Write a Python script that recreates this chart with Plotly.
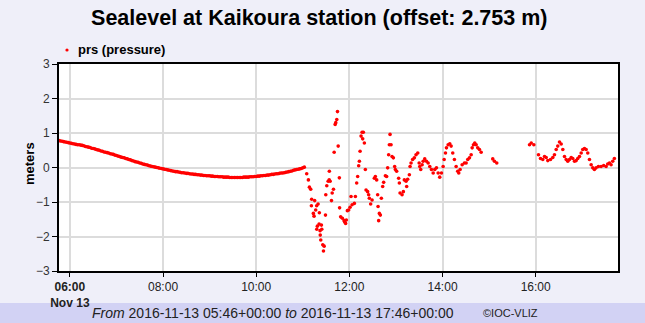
import pandas as pd
import plotly.graph_objects as go

# Kaikoura tide gauge, 2016-11-13, pressure sensor (offset removed: 2.753 m)
DAY = pd.Timestamp("2016-11-13")
CALM_START = pd.Timestamp("2016-11-13 05:46")

# Readings every 2 minutes, 05:46 -> 11:02 (metres)
calm_levels = [
    0.78, 0.77, 0.76, 0.75, 0.74, 0.73, 0.72, 0.71, 0.70, 0.69,
    0.68, 0.67, 0.66, 0.66, 0.65, 0.64, 0.63, 0.61, 0.60, 0.59,
    0.58, 0.56, 0.55, 0.54, 0.52, 0.51, 0.50, 0.48, 0.47, 0.45,
    0.44, 0.43, 0.42, 0.40, 0.39, 0.38, 0.36, 0.35, 0.33, 0.32,
    0.30, 0.29, 0.28, 0.26, 0.25, 0.23, 0.22, 0.20, 0.19, 0.17,
    0.16, 0.15, 0.13, 0.12, 0.10, 0.09, 0.08, 0.07, 0.05, 0.04,
    0.03, 0.02, 0.01, 0.00, -0.01, -0.02, -0.03, -0.04, -0.05, -0.06,
    -0.07, -0.08, -0.09, -0.10, -0.11, -0.12, -0.12, -0.13, -0.14, -0.15,
    -0.15, -0.16, -0.17, -0.17, -0.18, -0.19, -0.19, -0.20, -0.20, -0.21,
    -0.21, -0.22, -0.22, -0.23, -0.23, -0.24, -0.24, -0.24, -0.25, -0.25,
    -0.26, -0.26, -0.26, -0.27, -0.27, -0.27, -0.28, -0.28, -0.28, -0.28,
    -0.29, -0.29, -0.29, -0.29, -0.29, -0.29, -0.29, -0.29, -0.29, -0.28,
    -0.28, -0.28, -0.28, -0.27, -0.27, -0.27, -0.26, -0.26, -0.25, -0.25,
    -0.24, -0.24, -0.23, -0.23, -0.22, -0.22, -0.21, -0.20, -0.20, -0.19,
    -0.18, -0.18, -0.17, -0.16, -0.16, -0.15, -0.14, -0.13, -0.12, -0.11,
    -0.10, -0.08, -0.07, -0.06, -0.05, -0.04, -0.03, -0.01, 0.01,
]

# Tsunami arrival and later oscillations: time of day (hours, UTC) and level (m)
wave_hours = [
    11.084, 11.120, 11.142, 11.170, 11.185, 11.191, 11.227, 11.242, 11.255, 11.277,
    11.298, 11.300, 11.313, 11.328, 11.350, 11.356, 11.371, 11.375, 11.386, 11.400,
    11.408, 11.429, 11.444, 11.459, 11.487, 11.494, 11.515, 11.545, 11.567, 11.570,
    11.588, 11.616, 11.631, 11.659, 11.674, 11.695, 11.708, 11.730, 11.745, 11.760,
    11.785, 11.790, 11.813, 11.850, 11.886, 11.900, 11.920, 11.935, 11.957, 11.985,
    12.015, 12.036, 12.058, 12.107, 12.129, 12.157, 12.178, 12.200, 12.215, 12.230,
    12.251, 12.273, 12.286, 12.300, 12.322, 12.343, 12.358, 12.392, 12.414, 12.429,
    12.457, 12.487, 12.536, 12.558, 12.586, 12.607, 12.616, 12.629, 12.644, 12.665,
    12.687, 12.715, 12.736, 12.773, 12.800, 12.822, 12.843, 12.858, 12.873, 12.895,
    12.916, 12.944, 12.972, 12.987, 13.015, 13.058, 13.073, 13.088, 13.131, 13.159,
    13.180, 13.217, 13.230, 13.251, 13.288, 13.303, 13.324, 13.358, 13.395, 13.431,
    13.468, 13.498, 13.511, 13.532, 13.562, 13.584, 13.618, 13.655, 13.691, 13.726,
    13.762, 13.799, 13.833, 13.870, 13.906, 13.940, 13.977, 14.013, 14.035, 14.063,
    14.084, 14.120, 14.155, 14.185, 14.219, 14.255, 14.292, 14.326, 14.348, 14.378,
    14.421, 14.470, 14.507, 14.541, 14.578, 14.614, 14.636, 14.664, 14.692, 14.722,
    14.756, 14.793, 14.829,
    15.078, 15.115, 15.164,
    15.867, 15.904, 15.960, 16.060, 16.103, 16.152, 16.189, 16.225, 16.260, 16.318,
    16.367, 16.403, 16.440, 16.474, 16.511, 16.547, 16.582, 16.618, 16.655, 16.689,
    16.725, 16.762, 16.796, 16.833, 16.869, 16.903, 16.940, 16.976, 17.010, 17.047,
    17.083, 17.118, 17.154, 17.190, 17.225, 17.260, 17.297, 17.346, 17.404, 17.460,
    17.511, 17.546, 17.582, 17.618, 17.653, 17.689,
]
wave_levels = [
    -0.18, -0.36, -0.57, -0.63, -1.11, -0.92, -1.33, -1.41, -0.96, -1.23,
    -1.11, -1.79, -1.70, -1.06, -1.64, -1.31, -1.83, -1.96, -2.10, -1.67,
    -1.79, -2.24, -2.42, -2.28, -1.38, -0.79, -0.53, -0.40, -0.36, -0.11,
    -0.40, -0.96, -0.74, -0.63, 0.44, 1.25, 1.30, 1.39, 1.62, 0.62,
    -0.30, -1.17, -1.43, -1.47, -1.54, -1.58, -1.62, -1.52, -1.25, -1.23,
    -1.15, -0.84, -1.08, -1.04, -0.84, -0.45, -0.26, 0.05, 0.18, 0.47,
    0.91, 1.02, 0.83, 1.02, 0.71, -0.06, -0.65, -0.70, -0.79, -0.89,
    -1.06, -0.94, -0.31, -0.26, -0.36, -0.79, -1.13, -1.54, -1.33, -1.38,
    -0.89, -0.55, -0.43, -0.24, -0.26, -0.01, 0.37, 0.66, 0.96, 0.66,
    0.32, 0.28, 0.03, -0.06, -0.11, -0.31, -0.45, -0.74, -0.79, -0.70,
    -0.36, -0.40, -0.55, -0.34, -0.21, 0.03, 0.13, 0.23, 0.28, 0.37,
    0.42, 0.13, 0.03, -0.06, 0.08, 0.18, 0.25, 0.18, 0.13, 0.03,
    -0.06, -0.16, -0.06, -0.01, -0.16, -0.28, -0.16, 0.03, 0.23, 0.42,
    0.57, 0.66, 0.69, 0.62, 0.42, 0.23, 0.03, -0.11, -0.16, -0.06,
    0.08, 0.13, 0.13, 0.23, 0.28, 0.37, 0.57, 0.66, 0.71, 0.66,
    0.57, 0.52, 0.44,
    0.25, 0.18, 0.13,
    0.66, 0.71, 0.66, 0.37, 0.26, 0.23, 0.32, 0.29, 0.20, 0.23,
    0.29, 0.37, 0.52, 0.62, 0.74, 0.68, 0.52, 0.32, 0.23, 0.18,
    0.23, 0.29, 0.26, 0.18, 0.20, 0.26, 0.32, 0.42, 0.52, 0.55,
    0.52, 0.42, 0.23, 0.08, -0.01, -0.06, -0.01, 0.03, 0.03, 0.06,
    0.03, 0.10, 0.13, 0.08, 0.18, 0.26,
]

y_ticks = [-3, -2, -1, 0, 1, 2, 3]
x_tick_times = ["06:00", "08:00", "10:00", "12:00", "14:00", "16:00"]
x_tick_labels = ["<b>06:00</b><br><b>Nov 13</b>", "08:00", "10:00", "12:00", "14:00", "16:00"]

calm_times = pd.date_range(CALM_START, periods=len(calm_levels), freq="2min")
wave_times = DAY + pd.to_timedelta(wave_hours, unit="h")
times = list(calm_times) + list(wave_times)
levels = calm_levels + wave_levels

W, H = 645, 323
M_L, M_R, M_T, M_B = 59, 27, 64, 52
PW, PH = W - M_L - M_R, H - M_T - M_B


def px_x(px):
    return (px - M_L) / PW


def px_y(py):
    return (H - M_B - py) / PH


FONT = "Liberation Sans, Arial, sans-serif"
BG = "#efeff9"
BAND = "#d2d2f4"

fig = go.Figure()
fig.add_trace(go.Scatter(
    x=times, y=levels, mode="markers", name="prs (pressure)",
    marker=dict(color="#ff0000", size=3.6, line=dict(width=0)),
    showlegend=False,
))

fig.update_layout(
    width=W, height=H,
    margin=dict(l=M_L, r=M_R, t=M_T, b=M_B),
    paper_bgcolor=BG, plot_bgcolor="#ffffff",
    title=dict(
        text="<b>Sealevel at Kaikoura station (offset: 2.753 m)</b>",
        x=0.495, xref="container", xanchor="center",
        y=1 - 17 / H, yref="container", yanchor="middle",
        font=dict(family=FONT, size=21.5, color="#000000"),
    ),
    font=dict(family=FONT, size=12, color="#333333"),
)

fig.update_xaxes(
    type="date",
    range=[pd.Timestamp("2016-11-13 05:46"), pd.Timestamp("2016-11-13 17:46")],
    tickvals=[DAY + pd.Timedelta(t + ":00") for t in x_tick_times],
    ticktext=x_tick_labels,
    showgrid=True, gridcolor="#dcdcdc", gridwidth=2,
    showline=True, linecolor="#000000", linewidth=2, mirror=True,
    ticks="outside", ticklen=4, tickcolor="#000000",
    tickfont=dict(family=FONT, size=12, color="#222222"),
    zeroline=False,
)
fig.update_yaxes(
    range=[-3, 3], tickvals=y_ticks,
    showgrid=True, gridcolor="#dcdcdc", gridwidth=2,
    showline=True, linecolor="#000000", linewidth=2, mirror=True,
    ticks="outside", ticklen=5, tickcolor="#000000",
    tickfont=dict(family=FONT, size=12, color="#333333"),
    zeroline=False,
)

# y-axis title
fig.add_annotation(text="<b>meters</b>", xref="paper", yref="paper",
                   x=px_x(29), y=px_y(164), xanchor="center", yanchor="middle",
                   textangle=-90, showarrow=False,
                   font=dict(family=FONT, size=13, color="#000000"))

# legend entry
fig.add_shape(type="circle", xref="paper", yref="paper",
              x0=px_x(65.4), x1=px_x(68.6), y0=px_y(51.6), y1=px_y(48.4),
              fillcolor="#ff0000", line=dict(width=0))
fig.add_annotation(text="<b>prs (pressure)</b>", xref="paper", yref="paper",
                   x=px_x(76), y=px_y(50), xanchor="left", yanchor="middle",
                   showarrow=False, font=dict(family=FONT, size=13, color="#000000"))

# footer band with the time span
fig.add_shape(type="rect", xref="paper", yref="paper",
              x0=px_x(0), x1=px_x(W), y0=px_y(H), y1=px_y(303),
              fillcolor=BAND, line=dict(width=0), layer="below")
fig.add_annotation(
    text="<i>From</i> 2016-11-13 05:46+00:00 <i>to</i> 2016-11-13 17:46+00:00",
    xref="paper", yref="paper", x=px_x(273), y=px_y(313),
    xanchor="center", yanchor="middle", showarrow=False,
    font=dict(family=FONT, size=14, color="#222222"))
fig.add_annotation(
    text="©IOC-VLIZ", xref="paper", yref="paper", x=px_x(510), y=px_y(313),
    xanchor="center", yanchor="middle", showarrow=False,
    font=dict(family=FONT, size=11, color="#222222"))

fig.write_html("out.html")
